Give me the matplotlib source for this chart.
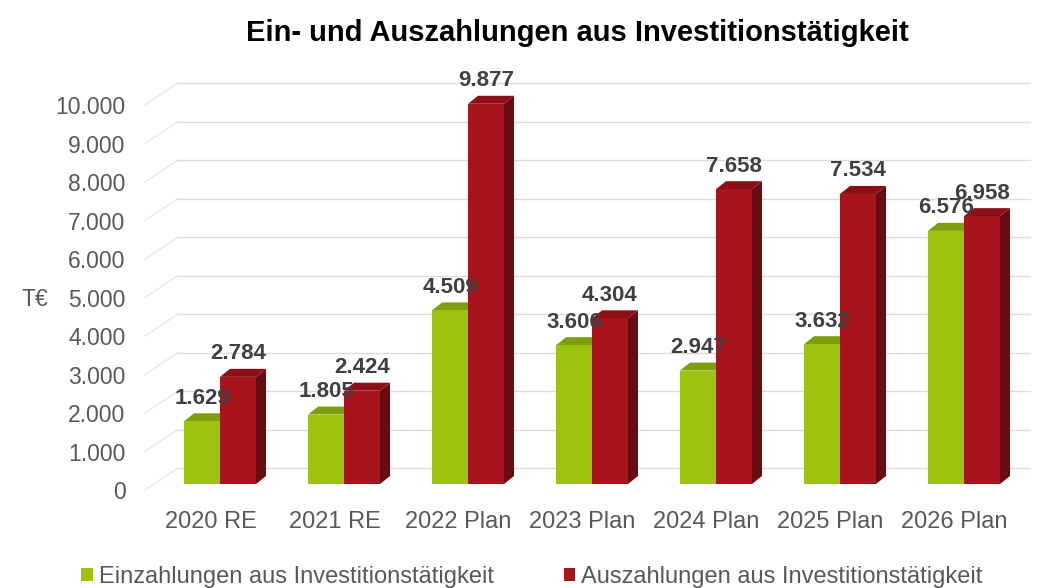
import matplotlib
matplotlib.use("Agg")
import matplotlib.pyplot as plt
from matplotlib.patches import Polygon, Patch

plt.rcParams['font.family'] = ['Liberation Sans', 'DejaVu Sans']

categories = ["2020 RE", "2021 RE", "2022 Plan", "2023 Plan", "2024 Plan", "2025 Plan", "2026 Plan"]
einzahlungen = [1629, 1805, 4509, 3606, 2947, 3632, 6576]
auszahlungen = [2784, 2424, 9877, 4304, 7658, 7534, 6958]
series_names = ["Einzahlungen aus Investitionstätigkeit", "Auszahlungen aus Investitionstätigkeit"]
yticks = list(range(0, 10001, 1000))
title = "Ein- und Auszahlungen aus Investitionstätigkeit"
unit = "T€"

W, H = 1039, 588
fig = plt.figure(figsize=(W / 100, H / 100), dpi=100)
ax = fig.add_axes([145 / W, 1 - 490 / H, 894 / W, 430 / H])
ax.set_xlim(-0.605, 6.605)
ax.set_ylim(0, 11169)
for s in ax.spines.values():
    s.set_visible(False)

txt_gray = '#595959'
lbl_gray = '#404040'

# 3D projection constants
gdx, gdy = 0.266, 570   # wall offset
bdx, bdy = 0.081, 208   # bar depth
w = 0.29
v0 = 155

# gridlines (back wall + side wall)
x0 = -0.605
for v in yticks:
    ax.plot([x0, x0 + gdx], [v, v + gdy], color='#e8e8e8', lw=1.0, zorder=0, clip_on=False)
    ax.plot([x0 + gdx, 6.53], [v + gdy, v + gdy], color='#dcdcdc', lw=1.0, zorder=0, clip_on=False)

colors = {
    0: dict(front='#9dc30f', top='#7f9e0c', side='#6d8a08'),
    1: dict(front='#a8141c', top='#8b0f15', side='#6b0a10'),
}

def bar3d(xl, val, c, z):
    top = v0 + val
    ax.add_patch(Polygon([(xl + w, v0), (xl + w + bdx, v0 + bdy), (xl + w + bdx, top + bdy), (xl + w, top)],
                         closed=True, facecolor=c['side'], edgecolor='none', zorder=z))
    ax.add_patch(Polygon([(xl, top), (xl + bdx, top + bdy), (xl + w + bdx, top + bdy), (xl + w, top)],
                         closed=True, facecolor=c['top'], edgecolor='none', zorder=z))
    ax.bar(xl, val, width=w, bottom=v0, align='edge', color=c['front'], edgecolor='none', zorder=z + 0.5)

for i in range(len(categories)):
    bar3d(i - w, einzahlungen[i], colors[0], 2)
    bar3d(i, auszahlungen[i], colors[1], 3)

def fmt(v):
    return f"{v:,}".replace(",", ".")

for i in range(len(categories)):
    for xl, val in ((i - w, einzahlungen[i]), (i, auszahlungen[i])):
        ax.text(xl + w / 2, v0 + val + 600, fmt(val), ha='center', va='center',
                fontsize=16, fontweight='bold', color=lbl_gray, zorder=10)

ax.set_yticks(yticks)
ax.set_yticklabels([fmt(v) for v in yticks], fontsize=16.5, color=txt_gray)
ax.set_xticks([i - 0.077 for i in range(len(categories))])
ax.set_xticklabels(categories, fontsize=17, color=txt_gray)
ax.tick_params(axis='y', length=0, pad=14)
ax.tick_params(axis='x', length=0, pad=15)

fig.text(577 / W, 1 - 33 / H, title, ha='center', va='center', fontsize=21, fontweight='bold', color='black')
fig.text(35 / W, 1 - 300 / H, unit, ha='center', va='center', fontsize=16.5, color=txt_gray)

handles = [Patch(facecolor=colors[0]['front']), Patch(facecolor=colors[1]['front'])]
fig.legend(handles, series_names, loc='center', bbox_to_anchor=(532 / W, 1 - 577 / H), ncol=2,
           frameon=False, fontsize=17, labelcolor=txt_gray, handlelength=0.5, handleheight=0.5,
           handletextpad=0.25, columnspacing=2.95, borderpad=0, borderaxespad=0)

fig.savefig("out.png", dpi=100)
